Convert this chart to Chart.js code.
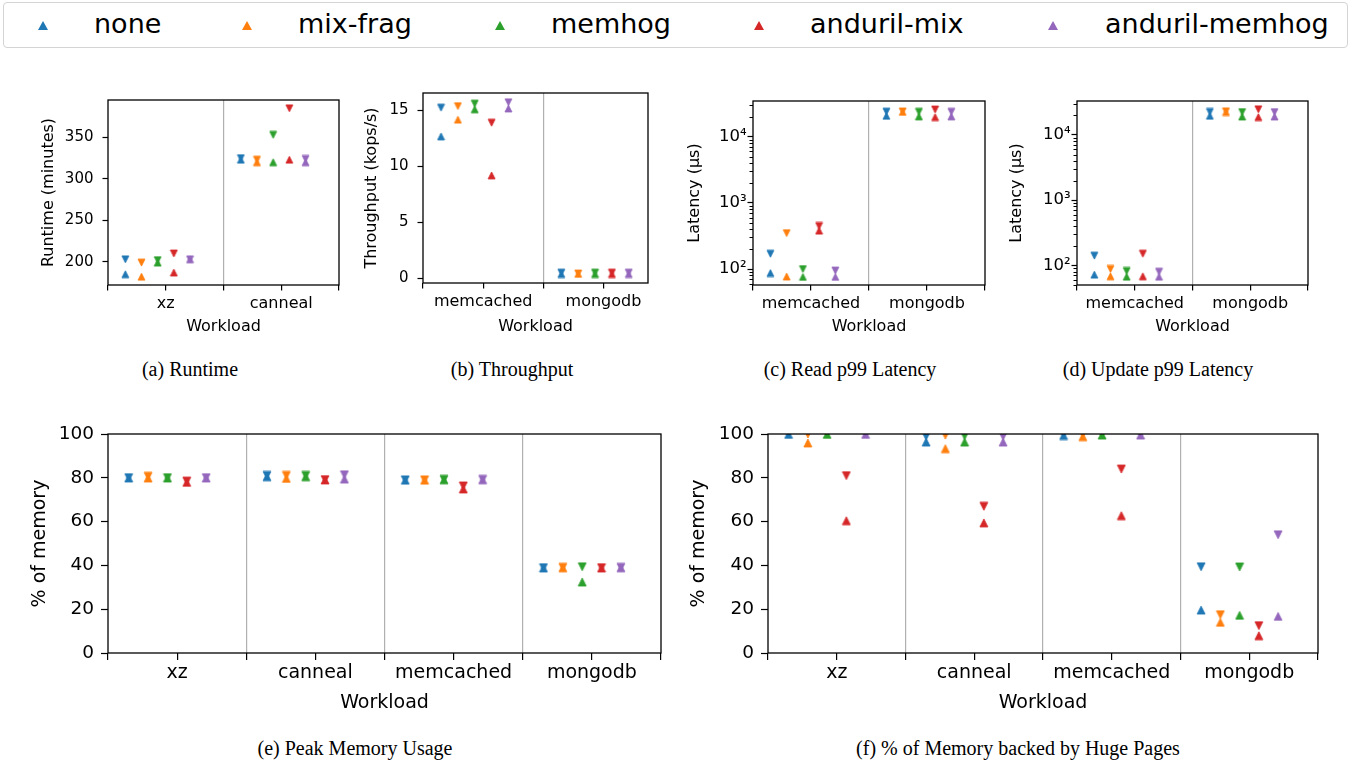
<!DOCTYPE html>
<html>
<head>
<meta charset="utf-8">
<title>Anduril evaluation</title>
<script src="https://cdn.jsdelivr.net/npm/chart.js@4.4.1/dist/chart.umd.min.js"></script>
<style>
  html, body { margin: 0; padding: 0; background: #fff; }
  body { width: 1351px; height: 763px; position: relative; overflow: hidden; font-family: "DejaVu Sans", sans-serif; }
  canvas.panel { position: absolute; }
  .legend-box { position: absolute; left: 3px; top: 2px; width: 1345px; height: 46px; box-sizing: border-box;
    border: 1px solid #d4d4d4; border-radius: 4px; }
  .mk { position: absolute; width: 0; height: 0; border-left: 5.5px solid transparent; border-right: 5.5px solid transparent; border-bottom: 9px solid #000; }
  .lb { position: absolute; font-size: 27px; line-height: 27px; white-space: nowrap; color: #000; }
  .caption { position: absolute; font-family: "Liberation Serif", "Times New Roman", serif; font-size: 20px; line-height: 20px;
    white-space: nowrap; transform: translateX(-50%); color: #000; }
</style>
</head>
<body>
<div class="legend-box"></div>
<div class="caption" style="left:190px; top:359px;">(a) Runtime</div>
<div class="caption" style="left:512px; top:359px;">(b) Throughput</div>
<div class="caption" style="left:850px; top:359px;">(c) Read p99 Latency</div>
<div class="caption" style="left:1158px; top:359px;">(d) Update p99 Latency</div>
<div class="caption" style="left:355px; top:738px;">(e) Peak Memory Usage</div>
<div class="caption" style="left:1018px; top:738px;">(f) % of Memory backed by Huge Pages</div>

<script>
// series / colours (matplotlib tab10)
const seriesNames = ['none', 'mix-frag', 'memhog', 'anduril-mix', 'anduril-memhog'];
const COLORS = ['#1f77b4', '#ff7f0e', '#2ca02c', '#d62728', '#9467bd'];

// (a) Runtime (minutes) -- [series][workload], max drawn as down triangle, min as up triangle
const runtimeWorkloads = ['xz', 'canneal'];
const runtimeTicks = [200, 250, 300, 350];
const runtimeMax = [[203, 325], [199, 323], [202, 353], [210, 385], [203, 324]];
const runtimeMin = [[185, 323], [182, 320], [199, 320], [187, 323], [203, 320]];

// (b) Throughput (kops/s)
const kvWorkloads = ['memcached', 'mongodb'];
const tputTicks = [0, 5, 10, 15];
const tputMax = [[15.24, 0.52], [15.38, 0.45], [15.6, 0.52], [13.9, 0.52], [15.73, 0.52]];
const tputMin = [[12.68, 0.40], [14.17, 0.41], [15.1, 0.40], [9.2, 0.40], [15.17, 0.40]];

// (c) Read p99 latency (us)
const readMax = [[170, 23800], [349, 24000], [100, 23700], [447, 25700], [95, 23700]];
const readMin = [[87, 20600], [77, 23600], [76, 20200], [380, 19700], [76, 20200]];

// (d) Update p99 latency (us)
const updateMax = [[141, 22600], [88, 23100], [82, 22500], [151, 24800], [80, 22500]];
const updateMin = [[72, 19700], [68, 22500], [67, 19200], [68, 18800], [67, 19200]];

const latencyTicks = [100, 1000, 10000];
const latencyTickLabels = ['10\u00b2', '10\u00b3', '10\u2074'];

// (e) Peak memory usage (% of memory)
const memWorkloads = ['xz', 'canneal', 'memcached', 'mongodb'];
const pctTicks = [0, 20, 40, 60, 80, 100];
const peakMax = [[80.1, 81.1, 79.1, 39.0], [80.7, 81.1, 79.1, 39.1], [80.1, 81.1, 79.3, 39.4], [78.5, 79.2, 76.3, 39.0], [80.1, 81.4, 79.3, 39.1]];
const peakMin = [[79.9, 80.5, 78.9, 38.8], [79.9, 79.7, 78.9, 38.9], [79.9, 80.5, 79.1, 32.4], [77.9, 79.0, 74.9, 38.8], [79.9, 79.4, 79.1, 38.9]];

// (f) % of memory backed by huge pages
const hugeMax = [[100, 99.0, 100, 39.4], [100, 99.5, 100, 17.5], [100, 99.2, 100, 39.3], [81.0, 67.0, 84.0, 12.5], [100, 99.0, 100, 54.0]];
const hugeMin = [[99.8, 96.3, 99.3, 19.6], [95.9, 93.3, 98.8, 14.0], [99.8, 96.3, 99.5, 17.2], [60.4, 59.4, 62.7, 7.9], [99.8, 96.3, 99.5, 16.7]];

const FONT = '"DejaVu Sans", sans-serif';
Chart.defaults.font.family = FONT;
Chart.defaults.color = '#000';

// legend (html, one row across the top)
const legendMarkX = [43, 247, 500, 759, 1053];
const legendTextX = [94, 298, 551, 810, 1105];
seriesNames.forEach((name, i) => {
  const mk = document.createElement('div');
  mk.className = 'mk';
  mk.style.left = (legendMarkX[i] - 5.5) + 'px';
  mk.style.top = '20.5px';
  mk.style.borderBottomColor = COLORS[i];
  document.body.appendChild(mk);
  const lb = document.createElement('div');
  lb.className = 'lb';
  lb.style.left = legendTextX[i] + 'px';
  lb.style.top = '10px';
  lb.textContent = name;
  document.body.appendChild(lb);
});

// matplotlib-like triangle markers (box-centred, width == height)
function triImage(color, size, down) {
  const d = Math.ceil(size) + 2;
  const c = document.createElement('canvas');
  c.width = d; c.height = d;
  const g = c.getContext('2d');
  const o = (d - size) / 2;
  g.beginPath();
  if (down) { g.moveTo(o, o); g.lineTo(o + size, o); g.lineTo(d / 2, o + size); }
  else { g.moveTo(d / 2, o); g.lineTo(o + size, o + size); g.lineTo(o, o + size); }
  g.closePath();
  g.fillStyle = color; g.fill();
  g.lineWidth = 0.8; g.strokeStyle = color; g.stroke();
  return c;
}

const framePlugin = {
  id: 'frame',
  afterDraw(chart) {
    const a = chart.chartArea, g = chart.ctx;
    g.save();
    g.strokeStyle = '#000';
    g.lineWidth = 1.3;
    g.strokeRect(a.left, a.top, a.right - a.left, a.bottom - a.top);
    g.restore();
  }
};

const minorLogPlugin = {
  id: 'minorLog',
  afterDraw(chart) {
    const y = chart.scales.y;
    if (y.type !== 'logarithmic') return;
    const g = chart.ctx, left = chart.chartArea.left;
    g.save();
    g.strokeStyle = '#000';
    g.lineWidth = 1;
    for (let e = 1; e <= 5; e++) {
      for (let m = 2; m <= 9; m++) {
        const v = m * Math.pow(10, e);
        if (v < y.min || v > y.max) continue;
        const py = Math.round(y.getPixelForValue(v)) + 0.5;
        g.beginPath(); g.moveTo(left - 3.5, py); g.lineTo(left, py); g.stroke();
      }
    }
    g.restore();
  }
};

function buildPanel(cfg) {
  const small = cfg.small;
  const fs = small
    ? { num: 15, cat: 16, title: 16, tick: 5.5, ypad: 9, xpad: 4, mk: 7 }
    : { num: 18.5, cat: 19, title: 19, tick: 7, ypad: 7, xpad: 2, mk: 8 };
  if (cfg.yType === 'logarithmic') { fs.ypad = 1; fs.num = 16.5; }
  const box = cfg.box;
  const lh = fs.title * 1.2;
  const canvasLeft = Math.round(cfg.yTitleX - lh / 2);
  const yw = box.l - canvasLeft;
  const xh = Math.round(cfg.xTitleY + lh / 2) - box.b;
  // room for the y scale's own top padding (half label height + tick padding)
  const padTop = 22, padRight = 6;

  const canvas = document.createElement('canvas');
  canvas.className = 'panel';
  canvas.width = (box.r - box.l) + yw + padRight;
  canvas.height = (box.b - box.t) + padTop + xh;
  canvas.style.left = canvasLeft + 'px';
  canvas.style.top = (box.t - padTop) + 'px';
  document.body.appendChild(canvas);

  const cats = cfg.cats;
  const xMax = cfg.xMax !== undefined ? cfg.xMax : cats.length - 0.5;
  const datasets = [];
  seriesNames.forEach((name, i) => {
    const dx = (i - 2.5) * 0.14;
    datasets.push({
      label: name + ' max',
      data: cats.map((c, j) => ({ x: j + dx, y: cfg.maxArr[i][j] })),
      pointStyle: triImage(COLORS[i], fs.mk, true),
      pointRadius: 4, showLine: false, clip: 0
    });
    datasets.push({
      label: name + ' min',
      data: cats.map((c, j) => ({ x: j + dx, y: cfg.minArr[i][j] })),
      pointStyle: triImage(COLORS[i], fs.mk, false),
      pointRadius: 4, showLine: false, clip: 0
    });
  });

  const yLabels = cfg.yLabels;
  return new Chart(canvas, {
    type: 'scatter',
    data: { datasets },
    options: {
      responsive: false,
      devicePixelRatio: 1,
      animation: false,
      events: [],
      layout: { padding: { top: padTop, right: padRight, left: 0, bottom: 0 } },
      plugins: { legend: { display: false }, tooltip: { enabled: false } },
      scales: {
        x: {
          type: 'linear',
          min: -0.5,
          max: xMax,
          afterBuildTicks: s => {
            const t = [];
            for (let v = -0.5; v <= xMax + 1e-9; v += 0.5) t.push({ value: v });
            s.ticks = t;
          },
          afterFit: s => { s.height = xh; },
          ticks: {
            autoSkip: false, maxRotation: 0, padding: fs.xpad, color: '#000',
            font: { family: FONT, size: fs.cat },
            callback: v => (Number.isInteger(v) ? cats[v] : '')
          },
          grid: {
            drawOnChartArea: true,
            color: c => {
              const v = c.tick ? c.tick.value : 0;
              return (v % 1 !== 0 && v > -0.5 && v < xMax - 0.01) ? '#b0b0b0' : 'rgba(0,0,0,0)';
            },
            lineWidth: 1.2,
            tickLength: fs.tick, tickColor: '#000', tickWidth: 1.2
          },
          border: { display: false },
          title: { display: true, text: 'Workload', color: '#000', padding: 0, font: { family: FONT, size: fs.title } }
        },
        y: {
          type: cfg.yType,
          min: cfg.yMin,
          max: cfg.yMax,
          afterBuildTicks: s => { s.ticks = cfg.yTicks.map(v => ({ value: v })); },
          afterFit: s => { s.width = yw; },
          ticks: {
            padding: fs.ypad, color: '#000',
            font: { family: FONT, size: fs.num },
            callback: v => {
              const k = cfg.yTicks.indexOf(v);
              return yLabels ? yLabels[k] : String(v);
            }
          },
          grid: { drawOnChartArea: false, tickLength: fs.tick, tickColor: '#000', tickWidth: 1.2 },
          border: { display: false },
          title: { display: true, text: cfg.yTitle, color: '#000', padding: 0, font: { family: FONT, size: fs.title } }
        }
      }
    },
    plugins: [framePlugin, minorLogPlugin]
  });
}

// (a)
buildPanel({
  small: true, box: { l: 108, t: 100, r: 339, b: 285 }, yTitleX: 49, xTitleY: 326.5,
  cats: runtimeWorkloads, maxArr: runtimeMax, minArr: runtimeMin,
  yType: 'linear', yMin: 172, yMax: 395, yTicks: runtimeTicks, yTitle: 'Runtime (minutes)'
});
// (b)
buildPanel({
  small: true, box: { l: 423, t: 93, r: 648, b: 283 }, yTitleX: 371.5, xTitleY: 326.5,
  cats: kvWorkloads, maxArr: tputMax, minArr: tputMin, xMax: 1.37,
  yType: 'linear', yMin: -0.4, yMax: 16.55, yTicks: tputTicks, yTitle: 'Throughput (kops/s)'
});
// (c)
buildPanel({
  small: true, box: { l: 753, t: 101, r: 985, b: 285 }, yTitleX: 694.5, xTitleY: 326.5,
  cats: kvWorkloads, maxArr: readMax, minArr: readMin,
  yType: 'logarithmic', yMin: 57.4, yMax: 34500, yTicks: latencyTicks, yLabels: latencyTickLabels,
  yTitle: 'Latency (\u03bcs)'
});
// (d)
buildPanel({
  small: true, box: { l: 1077, t: 101, r: 1308, b: 285 }, yTitleX: 1016.5, xTitleY: 326.5,
  cats: kvWorkloads, maxArr: updateMax, minArr: updateMin,
  yType: 'logarithmic', yMin: 50, yMax: 33200, yTicks: latencyTicks, yLabels: latencyTickLabels,
  yTitle: 'Latency (\u03bcs)'
});
// (e)
buildPanel({
  small: false, box: { l: 108, t: 434, r: 661, b: 653 }, yTitleX: 40, xTitleY: 703,
  cats: memWorkloads, maxArr: peakMax, minArr: peakMin,
  yType: 'linear', yMin: 0, yMax: 100, yTicks: pctTicks, yTitle: '% of memory'
});
// (f)
buildPanel({
  small: false, box: { l: 768, t: 434, r: 1318, b: 653 }, yTitleX: 699, xTitleY: 703,
  cats: memWorkloads, maxArr: hugeMax, minArr: hugeMin,
  yType: 'linear', yMin: 0, yMax: 100, yTicks: pctTicks, yTitle: '% of memory'
});
</script>
</body>
</html>
